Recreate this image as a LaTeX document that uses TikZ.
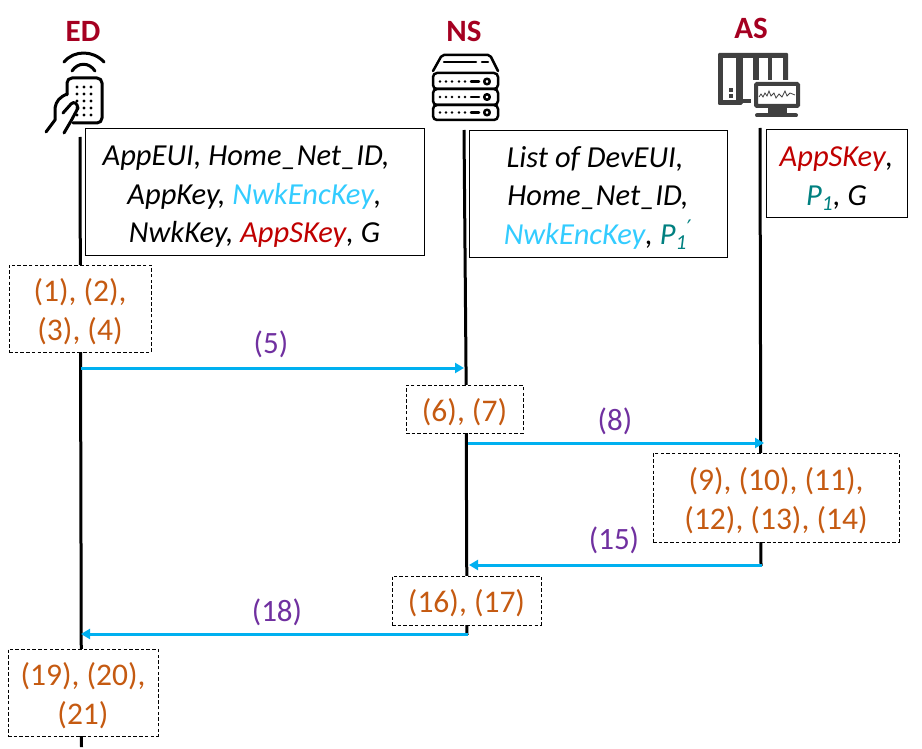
\documentclass[tikz,border=0pt]{standalone}
\usepackage{fontspec}
\setmainfont{Carlito}
\newfontfamily\primefont{DejaVu Sans}
\usetikzlibrary{arrows.meta}
\definecolor{keyred}{HTML}{C00000}
\definecolor{keyblue}{HTML}{33CCFF}
\definecolor{keyteal}{HTML}{008080}
\definecolor{steporange}{HTML}{C55A11}
\definecolor{msgpurple}{HTML}{7030A0}
\definecolor{msgblue}{HTML}{00B0F0}
\definecolor{titlered}{HTML}{A50021}
\definecolor{icongray}{HTML}{404040}
\tikzset{
  lifeline/.style={line width=3pt,black},
  msg/.style={line width=3pt,msgblue,-{Triangle[length=9pt,width=10pt]}},
  msglabel/.style={text=msgpurple,font=\fontsize{31}{38}\selectfont,inner sep=0pt},
  title/.style={text=titlered,font=\fontsize{31}{36}\selectfont\bfseries,inner sep=0pt},
  keybox/.style={draw=black,line width=1pt,fill=white,align=center,inner sep=0pt,
     font=\fontsize{30.5}{38.5}\selectfont\itshape},
  stepbox/.style={draw=black,line width=0.9pt,dash pattern=on 3.5pt off 2.2pt,fill=white,align=center,
     inner sep=0pt,text=steporange,font=\fontsize{31.5}{38.5}\selectfont},
  ico/.style={line width=3pt,black,line cap=round,line join=round},
}
\newcommand{\ks}[1]{\textcolor{keyred}{#1}}
\newcommand{\kb}[1]{\textcolor{keyblue}{#1}}
\newcommand{\kt}[1]{\textcolor{keyteal}{#1}}
\newcommand{\dn}{\rule{0pt}{29pt}}
\newcommand{\sn}{\rule{0pt}{29pt}}
\begin{document}
\begin{tikzpicture}[x=1pt,y=-1pt]
\useasboundingbox (0,0) rectangle (922,749);
\fill[white] (0,0) rectangle (922,749);
% lifeline ends
\coordinate (edtop) at (80,137); \coordinate (edbot) at (81.5,747);
\coordinate (nstop) at (464,130); \coordinate (nsmid) at (466,367); \coordinate (nsbot) at (467,635);
\coordinate (astop) at (760,128); \coordinate (asbot) at (761,566);
\draw[lifeline] (edtop) -- (edbot);
\draw[lifeline] (nstop) -- (nsmid) -- (nsbot);
\draw[lifeline] (astop) -- (asbot);
% titles
\node[title] (edt) at (83,31) {ED};
\node[title] (nst) at (464,31) {NS};
\node[title] (ast) at (751,28) {AS};
% key boxes
\node[keybox,minimum width=339pt,minimum height=126pt] (kb1) at (254.5,192)
 {\dn AppEUI, Home\_Net\_ID,\hspace*{17pt}\\AppKey, \kb{NwkEncKey},\hspace*{15pt}\\NwkKey, \ks{AppSKey}, G};
\node[keybox,minimum width=258pt,minimum height=126pt] (kb2) at (598,194)
 {\dn List of DevEUI,\hspace*{6pt}\\Home\_Net\_ID,\\\kb{NwkEncKey}, \kt{P\textsubscript{1}\textsuperscript{{\primefont\upshape ′}}}};
\node[keybox,minimum width=141pt,minimum height=88pt] (kb3) at (836.5,174)
 {\dn \ks{AppSKey},\\\kt{P\textsubscript{1}}, G};
% step boxes
\node[stepbox,minimum width=142pt,minimum height=87pt] (s1) at (80,308.5) {\sn (1), (2),\\(3), (4)};
\node[stepbox,minimum width=117pt,minimum height=48pt] (s6) at (464.5,409) {\sn (6), (7)};
\node[stepbox,minimum width=246pt,minimum height=89pt] (s9) at (776,497.5) {\sn (9), (10), (11),\\(12), (13), (14)};
\node[stepbox,minimum width=149pt,minimum height=49pt] (s16) at (466.5,600.5) {\sn (16), (17)};
\node[stepbox,minimum width=150pt,minimum height=87pt] (s19) at (83,692.5) {\sn (19), (20),\\(21)};
% messages
\coordinate (m5a) at (81,368); \coordinate (m5b) at (464,368);
\coordinate (m8a) at (468,443); \coordinate (m8b) at (764,443);
\coordinate (m15a) at (762,565); \coordinate (m15b) at (469,565);
\coordinate (m18a) at (468,634); \coordinate (m18b) at (81,634);
\draw[msg] (m5a) -- (m5b);
\draw[msg] (m8a) -- (m8b);
\draw[msg] (m15a) -- (m15b);
\draw[msg] (m18a) -- (m18b);
\node[msglabel] (l5) at (271,344) {(5)};
\node[msglabel] (l8) at (615,421) {(8)};
\node[msglabel] (l15) at (614,540) {(15)};
\node[msglabel] (l18) at (277,612) {(18)};
% ED icon
\begin{scope}[ico]
\draw (64,62) .. controls (74,50) and (93,50) .. (104,62);
\draw (72,71) .. controls (78,62) and (89,62) .. (95,71);
\draw[rounded corners=5pt] (67,95) -- (67,78) -- (102,78) -- (102,123) -- (73,123);
\foreach \y in {87,94,101,108,115} \foreach \x in {77,84,91} \fill (\x,\y) circle (1.7pt);
\draw (46,132) -- (55,120) -- (55,108) .. controls (56,101) and (60,97) .. (67,94);
\draw (64,133) -- (71,121) -- (78,108) .. controls (77,103) and (74,101) .. (71,104) -- (63,113);
\end{scope}
% NS icon
\begin{scope}[ico,line width=2.5pt]
\draw[rounded corners=2pt] (433,71) -- (442,55) -- (490,55) -- (498,71);
\draw[rounded corners=4pt] (433,73) rectangle (498,89);
\draw[rounded corners=4pt] (433,89) rectangle (498,105);
\draw[rounded corners=4pt] (433,105) rectangle (498,120);
\draw (444,62) -- (476,62); \draw (482,62) -- (488,62);
\foreach \y in {81.5,97,112.5} {
  \foreach \x in {440,446,452,459,465} \fill (\x,\y) circle (1.3pt);
  \draw (471,\y) -- (479,\y);
  \draw (487,\y) circle (2.8pt);
}
\end{scope}
% AS icon
\fill[icongray,rounded corners=1pt] (718,53) -- (788,53) -- (788,86) -- (757,86) -- (757,103) -- (742,103) -- (742,105) -- (718,105) -- cycle;
\fill[white] (723,58) rectangle (736,100);
\fill[white] (743,58) rectangle (753,99);
\fill[white] (759,58) rectangle (768,84);
\fill[white] (772,58) rectangle (783,84);
\fill[icongray] (729,88) rectangle (733,92);
\fill[icongray] (729,94) rectangle (733,98);
\fill[white] (751,80) rectangle (802,120);
\draw[icongray,line width=4pt,fill=white,rounded corners=1pt] (756,84) rectangle (798,106);
\fill[icongray] (768,106) rectangle (787,113);
\draw[icongray,line width=4pt,line cap=round] (757,115.5) -- (796,115.5);
\draw[icongray,line width=0.8pt] (759,97) -- (761,94) -- (763,97) -- (765,93) -- (767,96) -- (769,91) -- (771,96) -- (774,93) -- (776,98) -- (779,94) -- (782,97) -- (785,91) -- (787,96) -- (790,93) -- (795,95);
\end{tikzpicture}
\end{document}
